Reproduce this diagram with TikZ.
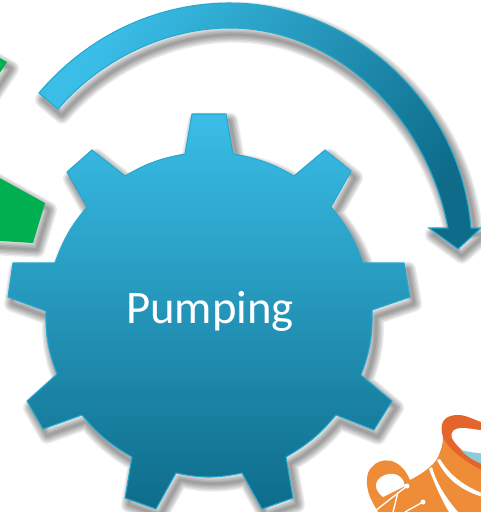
\documentclass[tikz,border=0pt]{standalone}
\usepackage{fontspec}
\setmainfont{Carlito}
\definecolor{geartop}{HTML}{3ABEE8}
\definecolor{gearbottom}{HTML}{0E6C8A}
\definecolor{gearedge}{HTML}{25A9CF}
\definecolor{leafgreen}{HTML}{00B050}
\definecolor{jugorange}{HTML}{EE8C38}
\definecolor{jugrim}{HTML}{E4652A}
\definecolor{jugwater}{HTML}{8CCBD9}

%% soft shadow: the same path stroked several times, wide and faint
\newcommand{\softshadow}[1]{%
  \foreach \shadowwidth in {12,10,8,6,4,2}
    \draw[black, opacity=0.075, line width=\shadowwidth pt, line join=round,
          xshift=3pt, yshift=-5pt] #1;}

\newcommand{\arrowpath}{(39,93) .. controls (90,33) and (160,3) .. (230,3)
  .. controls (345,3) and (460,95) .. (471,228)
  -- (481,228) -- (458,249) -- (429,228) -- (448,228)
  .. controls (425,110) and (330,28) .. (230,28)
  .. controls (165,28) and (100,60) .. (58,109) -- cycle}

\newcommand{\gearpath}{(192,114) -- (226,114) -- (233,154)
  to[bend left=10] (294,176) -- (325,150) -- (351,171) -- (331,207)
  to[bend left=10] (363,263) -- (404,263) -- (410,297) -- (372,310)
  to[bend left=11] (361,375) -- (392,401) -- (374,430) -- (336,415)
  to[bend left=10] (286,457) -- (293,498) -- (262,509) -- (242,473)
  to[bend left=12] (176,473) -- (156,509) -- (125,498) -- (132,457)
  to[bend left=10] (82,415) -- (43,429) -- (27,401) -- (57,374)
  to[bend left=11] (46,311) -- (8,297) -- (13,263) -- (55,263)
  to[bend left=10] (87,207) -- (67,172) -- (92,150) -- (125,176)
  to[bend left=10] (185,154) -- cycle}

\begin{document}
\begin{tikzpicture}[x=0.75pt, y=-0.75pt,
                    gearshape/.style={draw=gearedge, line width=0.8pt, line join=miter,
                                      top color=geartop, bottom color=gearbottom},
                    arrowshape/.style={draw=gearedge, line width=0.8pt, line join=miter,
                                       left color=geartop, right color=gearbottom, shading angle=55},
                    whiteline/.style={white, line width=1pt},
                    every node/.style={white, font=\fontsize{35}{40}\selectfont}]

\useasboundingbox (0,0) rectangle (481,512);
\clip (0,0) rectangle (481,512);

%% ==== green leaves at the left edge ================================
\softshadow{(-15,50) -- (7,62) -- (-15,95) -- cycle}
\softshadow{(-15,170) -- (45,203) -- (33,243) -- (-15,240) -- cycle}
\fill[leafgreen] (-15,50) -- (7,62) -- (-15,95) -- cycle;
\fill[leafgreen] (-15,170) -- (45,203) -- (33,243) -- (-15,240) -- cycle;

%% ==== curved arrow ==================================================
\softshadow{\arrowpath}
\draw[arrowshape] \arrowpath;

%% ==== gear, clockwise from the top tooth ============================
\softshadow{\gearpath}
\draw[gearshape] \gearpath;

\node[anchor=base] (pumpinglabel) at (210,323) {Pumping};

%% ==== jug in the corner =============================================
\fill[jugorange] (378,512) -- (373,503) .. controls (365,490) and (365,472) .. (372,467)
  .. controls (380,457) and (400,456) .. (410,480)
  .. controls (420,475) and (434,466) .. (438,457)
  .. controls (441,450) and (443,445) .. (443,437)
  -- (490,450) -- (490,512) -- cycle;

%% hole of the handle
\fill[white] (383,497) .. controls (374,490) and (374,482) .. (381,477)
  .. controls (390,471) and (403,473) .. (405,486) -- cycle;

%% bands and marks on the body
\fill[white] (432,467) .. controls (436,482) and (445,497) .. (458,512)
  -- (449,512) .. controls (440,497) and (434,482) .. (429,469) -- cycle;
\fill[white] (437,460) .. controls (447,480) and (462,492) .. (490,499)
  -- (490,496) .. controls (466,488) and (450,476) .. (440,459) -- cycle;
\draw[whiteline] (407,486) -- (375,511);
\draw[whiteline] (398,492) -- (393,512);
\draw[whiteline] (423,502) -- (405,512);
\fill[white] (407,486) circle[radius=2.5];
\fill[white] (423,502) circle[radius=2.5];
\fill[white] (375,511) circle[radius=2.5];

%% rim with water inside
\fill[jugrim] (443,437) .. controls (439,424) and (443,415) .. (458,415)
  .. controls (468,415) and (475,421) .. (490,425)
  -- (490,474) .. controls (470,465) and (450,452) .. (443,437) -- cycle;
\fill[white] (452,438) .. controls (450,431) and (455,428) .. (462,428)
  .. controls (470,428) and (475,430) .. (490,431)
  -- (490,466) .. controls (475,460) and (458,450) .. (452,438) -- cycle;
\fill[jugwater] (461,450) .. controls (468,452) and (475,453) .. (490,454)
  -- (490,467) .. controls (478,463) and (468,458) .. (461,450) -- cycle;

\end{tikzpicture}
\end{document}
